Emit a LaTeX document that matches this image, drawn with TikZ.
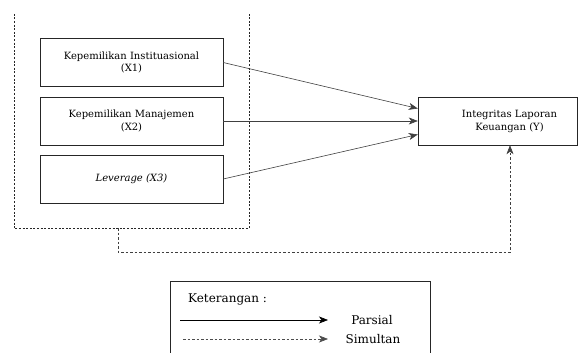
\documentclass[tikz,border=0pt]{standalone}
\usepackage{fontspec}
\setmainfont{DejaVu Serif}
\usepackage{tikz}
\usetikzlibrary{positioning,arrows.meta,calc}

\begin{document}
\begin{tikzpicture}[
  x=1pt, y=-1pt,
  var/.style={rectangle, draw=black!85, thin, font=\fontsize{10}{12.5}\selectfont,
              minimum width=183pt, minimum height=48pt, align=center, inner sep=1pt},
  grp/.style={draw=black!85, thin, dash pattern=on 2pt off 1.6pt},
  ar/.style={-{Stealth[length=9pt,width=7pt,inset=2.5pt]}, semithick, black!75},
  sim/.style={-{Stealth[length=9pt,width=7pt,inset=2.5pt]}, semithick, black!75, dash pattern=on 2.5pt off 2pt},
  leg/.style={font=\fontsize{12}{14}\selectfont},
]
\clip (0,0) rectangle (587,353);

% dotted frame round the three variables (open at the top)
\node[minimum width=235pt, minimum height=214pt, inner sep=0pt] (frame) at (131.5,121) {};
\draw[grp] (frame.north west) |- (frame.south east) -- (frame.north east);

\node[var] (x1) at (131.5, 62.5)  {Kepemilikan Instituasional\\(X1)};
\node[var] (x2) at (131.5,121)    {Kepemilikan Manajemen\\(X2)};
\node[var] (x3) at (131.5,179)    {\itshape Leverage (X3)};
\node[var, minimum width=159pt] (yy) at (497.5,121) {};
\node[font=\fontsize{10}{13}\selectfont, align=center] (ylab) at ([xshift=12pt]yy.center)
    {Integritas Laporan\\Keuangan (Y)};

\draw[ar] (x1.east) -- ($(yy.west)+(0,-12.5)$);
\draw[ar] (x2.east) -- (yy.west);
\draw[ar] (x3.east) -- ($(yy.west)+(0,13.5)$);

\draw[sim] (frame.south-|118,0) -- ++(0,24) -| (yy.south-|510,0);

% legend
\node[draw=black!85, thin, minimum width=260pt, minimum height=90pt, inner sep=0pt] (legend) at (300,326) {};
\node[leg, anchor=west, inner sep=0pt] (ket) at (188,299) {Keterangan :};
\coordinate (pa) at (180,320);
\coordinate (pb) at (328,320);
\coordinate (sa) at (183,339);
\coordinate (sb) at (328,339);
\draw[ar, black] (pa) -- (pb);
\draw[sim, black!70] (sa) -- (sb);
\node[leg] (parsial) at (372,320) {Parsial};
\node[leg] (simultan) at (373,339) {Simultan};
\end{tikzpicture}
\end{document}
